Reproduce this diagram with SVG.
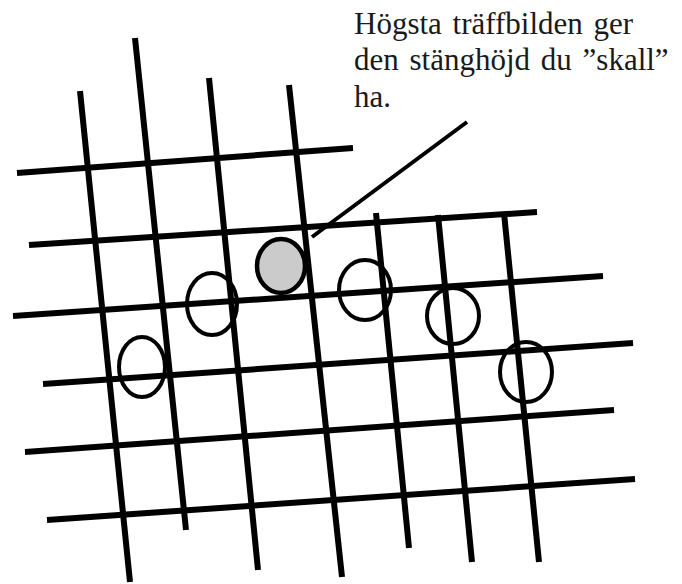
<svg xmlns="http://www.w3.org/2000/svg" width="682" height="584" viewBox="0 0 682 584">
<style>
.grid line{stroke:#000;stroke-width:6;stroke-linecap:butt}
.ring{fill:none;stroke:#000;stroke-width:4}
.hit{fill:#cbcbcb;stroke:#000;stroke-width:4.5}
.lbl{font-family:"Liberation Serif","Times New Roman",serif;font-size:31px;fill:#1a1a1a;word-spacing:3px}
.ptr{stroke:#000;stroke-width:4;stroke-linecap:butt}
</style>
<rect width="682" height="584" fill="#fff"/>
<g id="grid" class="grid">
<line x1="80" y1="91" x2="130" y2="582"/>
<line x1="135" y1="38" x2="186" y2="530"/>
<line x1="209" y1="78" x2="258" y2="570"/>
<line x1="289" y1="85" x2="342" y2="577"/>
<line x1="376" y1="213" x2="409" y2="548"/>
<line x1="438" y1="215" x2="472" y2="562"/>
<line x1="504" y1="213" x2="539" y2="562"/>
<line x1="17" y1="173" x2="353" y2="148"/>
<line x1="29" y1="245" x2="537" y2="212"/>
<line x1="13" y1="316" x2="603" y2="276"/>
<line x1="43" y1="384" x2="633" y2="343"/>
<line x1="25" y1="452" x2="614" y2="410"/>
<line x1="47" y1="520" x2="635" y2="479"/>
</g>
<g id="connectors">
<line class="ptr" x1="467" y1="122" x2="312" y2="237"/>
</g>
<g id="hit-top"><ellipse class="hit" cx="281" cy="266" rx="24" ry="27"/></g>
<g id="ring1"><ellipse class="ring" cx="142" cy="367" rx="23" ry="30"/></g>
<g id="ring2"><ellipse class="ring" cx="212" cy="304" rx="25" ry="31"/></g>
<g id="ring3"><ellipse class="ring" cx="365" cy="290" rx="26" ry="30"/></g>
<g id="ring4"><ellipse class="ring" cx="453" cy="316" rx="26" ry="28"/></g>
<g id="ring5"><ellipse class="ring" cx="526" cy="372" rx="26" ry="30"/></g>
<g id="label">
<text class="lbl" x="354" y="34">Högsta träffbilden ger</text>
<text class="lbl" x="354" y="70">den stänghöjd du ”skall”</text>
<text class="lbl" x="354" y="107">ha.</text>
</g>
</svg>
